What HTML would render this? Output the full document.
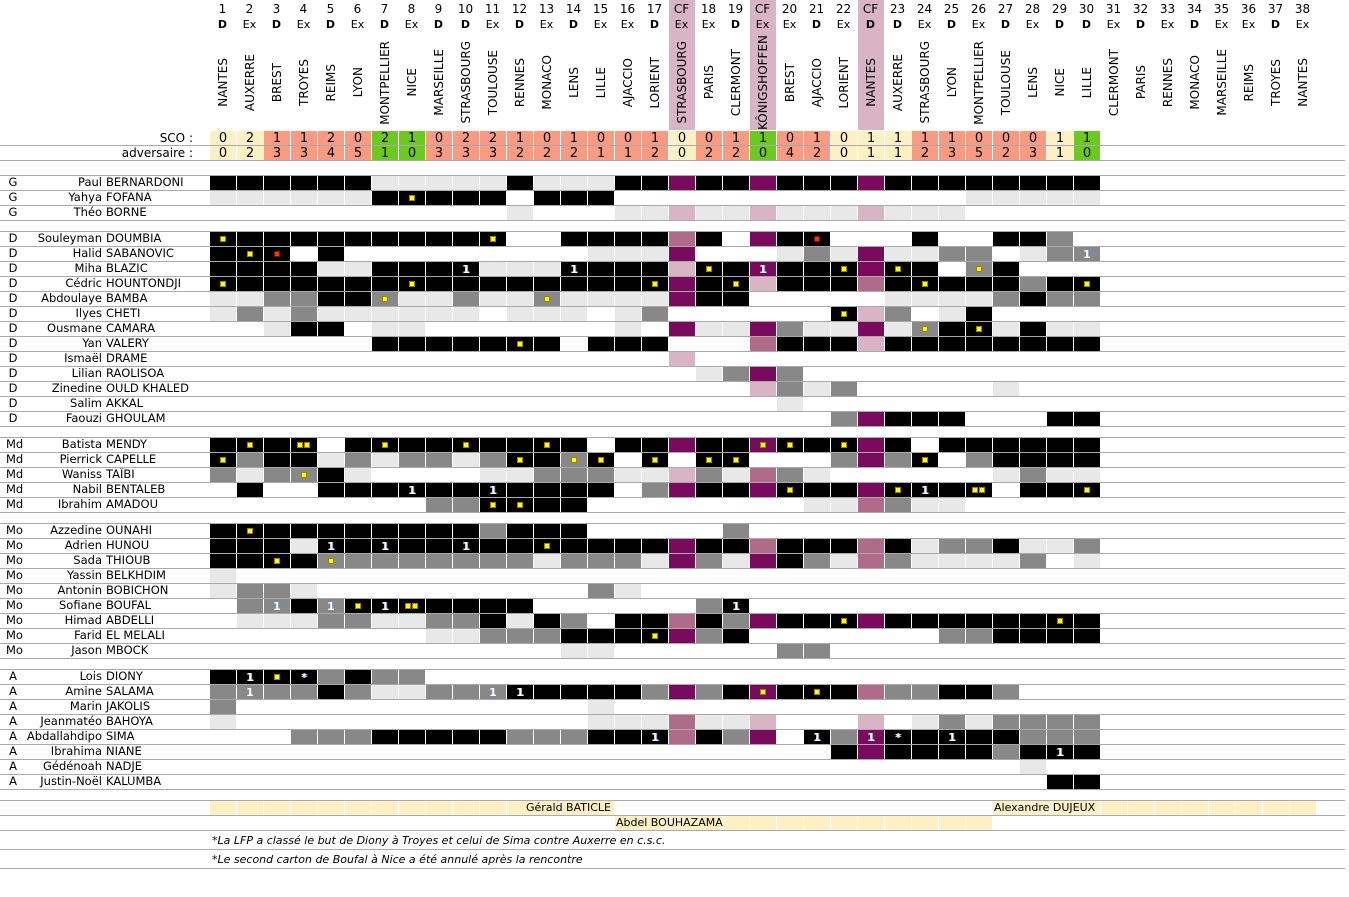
<!DOCTYPE html>
<html><head><meta charset="utf-8">
<style>
body{margin:0;width:1349px;height:897px;background:#fff;position:relative;overflow:hidden;font-family:"DejaVu Sans","Liberation Sans",sans-serif;color:#000}
.a{position:absolute}
.hr{position:absolute;left:0;width:1345px;height:1px;background:#aaa}
.hrow{position:absolute;left:209px;display:flex}
.hrow span{width:27px;text-align:center;display:block}
.vn span{height:95px;display:flex;align-items:center;justify-content:center}
.vn i{font-style:normal;writing-mode:vertical-rl;transform:rotate(180deg);font-size:12px;white-space:nowrap}
.cf{position:absolute;top:0;height:130px;width:26px;background:#d8b4c4}
.lab{position:absolute;left:0;height:15px;font-size:11.5px;line-height:15px;width:205px}
.lab b{font-weight:normal;position:absolute;left:6px;width:14px;text-align:center}
.lab em{font-style:normal;position:absolute;right:103px;white-space:nowrap}
.lab u{text-decoration:none;position:absolute;left:106px;white-space:nowrap}
.sc{position:absolute;width:26px;height:14px;font-size:13px;line-height:15px;text-align:center}
.c{position:absolute;width:26px;height:14px}
.dot{position:absolute;width:4px;height:4px;background:#ff0;border:1px solid #a08000;top:4px}
.g{position:absolute;left:0;width:26px;top:0;text-align:center;color:#fff;font-weight:bold;font-size:11px;line-height:15px;text-shadow:1px 0 0 #6a8ac0}
.cream{position:absolute;height:14px;width:26px;background:#fdf0c4}
</style></head><body>

<div class="cf" style="left:669px"></div>
<div class="cf" style="left:750px"></div>
<div class="cf" style="left:858px"></div>

<div class="hrow" style="top:2px;font-size:12px">
<span>1</span><span>2</span><span>3</span><span>4</span><span>5</span><span>6</span><span>7</span><span>8</span><span>9</span><span>10</span><span>11</span><span>12</span><span>13</span><span>14</span><span>15</span><span>16</span><span>17</span><span>CF</span><span>18</span><span>19</span><span>CF</span><span>20</span><span>21</span><span>22</span><span>CF</span><span>23</span><span>24</span><span>25</span><span>26</span><span>27</span><span>28</span><span>29</span><span>30</span><span>31</span><span>32</span><span>33</span><span>34</span><span>35</span><span>36</span><span>37</span><span>38</span>
</div>
<div class="hrow" style="top:18px;font-size:11px">
<span><b>D</b></span><span>Ex</span><span><b>D</b></span><span>Ex</span><span><b>D</b></span><span>Ex</span><span><b>D</b></span><span>Ex</span><span><b>D</b></span><span><b>D</b></span><span>Ex</span><span><b>D</b></span><span>Ex</span><span><b>D</b></span><span>Ex</span><span>Ex</span><span><b>D</b></span><span>Ex</span><span>Ex</span><span><b>D</b></span><span>Ex</span><span>Ex</span><span><b>D</b></span><span>Ex</span><span><b>D</b></span><span><b>D</b></span><span>Ex</span><span><b>D</b></span><span>Ex</span><span><b>D</b></span><span>Ex</span><span><b>D</b></span><span><b>D</b></span><span>Ex</span><span><b>D</b></span><span>Ex</span><span><b>D</b></span><span>Ex</span><span>Ex</span><span><b>D</b></span><span>Ex</span>
</div>
<div class="hrow vn" style="top:35px">
<span><i>NANTES</i></span><span><i>AUXERRE</i></span><span><i>BREST</i></span><span><i>TROYES</i></span><span><i>REIMS</i></span><span><i>LYON</i></span><span><i>MONTPELLIER</i></span><span><i>NICE</i></span><span><i>MARSEILLE</i></span><span><i>STRASBOURG</i></span><span><i>TOULOUSE</i></span><span><i>RENNES</i></span><span><i>MONACO</i></span><span><i>LENS</i></span><span><i>LILLE</i></span><span><i>AJACCIO</i></span><span><i>LORIENT</i></span><span><i>STRASBOURG</i></span><span><i>PARIS</i></span><span><i>CLERMONT</i></span><span><i>KÔNIGSHOFFEN</i></span><span><i>BREST</i></span><span><i>AJACCIO</i></span><span><i>LORIENT</i></span><span><i>NANTES</i></span><span><i>AUXERRE</i></span><span><i>STRASBOURG</i></span><span><i>LYON</i></span><span><i>MONTPELLIER</i></span><span><i>TOULOUSE</i></span><span><i>LENS</i></span><span><i>NICE</i></span><span><i>LILLE</i></span><span><i>CLERMONT</i></span><span><i>PARIS</i></span><span><i>RENNES</i></span><span><i>MONACO</i></span><span><i>MARSEILLE</i></span><span><i>REIMS</i></span><span><i>TROYES</i></span><span><i>NANTES</i></span>
</div>

<div class="a" style="left:0;width:193px;text-align:right;top:131px;font-size:12px;line-height:15px">SCO :</div>
<div class="a" style="left:0;width:193px;text-align:right;top:146px;font-size:12px;line-height:15px">adversaire :</div>
<div class="hr" style="top:145px"></div>
<div class="hr" style="top:160px"></div>

<div class="lab" style="top:175px"><b>G</b><em>Paul</em><u>BERNARDONI</u></div>
<div class="lab" style="top:190px"><b>G</b><em>Yahya</em><u>FOFANA</u></div>
<div class="lab" style="top:205px"><b>G</b><em>Théo</em><u>BORNE</u></div>
<div class="lab" style="top:231px"><b>D</b><em>Souleyman</em><u>DOUMBIA</u></div>
<div class="lab" style="top:246px"><b>D</b><em>Halid</em><u>SABANOVIC</u></div>
<div class="lab" style="top:261px"><b>D</b><em>Miha</em><u>BLAZIC</u></div>
<div class="lab" style="top:276px"><b>D</b><em>Cédric</em><u>HOUNTONDJI</u></div>
<div class="lab" style="top:291px"><b>D</b><em>Abdoulaye</em><u>BAMBA</u></div>
<div class="lab" style="top:306px"><b>D</b><em>Ilyes</em><u>CHETI</u></div>
<div class="lab" style="top:321px"><b>D</b><em>Ousmane</em><u>CAMARA</u></div>
<div class="lab" style="top:336px"><b>D</b><em>Yan</em><u>VALERY</u></div>
<div class="lab" style="top:351px"><b>D</b><em>Ismaël</em><u>DRAME</u></div>
<div class="lab" style="top:366px"><b>D</b><em>Lilian</em><u>RAOLISOA</u></div>
<div class="lab" style="top:381px"><b>D</b><em>Zinedine</em><u>OULD KHALED</u></div>
<div class="lab" style="top:396px"><b>D</b><em>Salim</em><u>AKKAL</u></div>
<div class="lab" style="top:411px"><b>D</b><em>Faouzi</em><u>GHOULAM</u></div>
<div class="lab" style="top:437px"><b>Md</b><em>Batista</em><u>MENDY</u></div>
<div class="lab" style="top:452px"><b>Md</b><em>Pierrick</em><u>CAPELLE</u></div>
<div class="lab" style="top:467px"><b>Md</b><em>Waniss</em><u>TAÏBI</u></div>
<div class="lab" style="top:482px"><b>Md</b><em>Nabil</em><u>BENTALEB</u></div>
<div class="lab" style="top:497px"><b>Md</b><em>Ibrahim</em><u>AMADOU</u></div>
<div class="lab" style="top:523px"><b>Mo</b><em>Azzedine</em><u>OUNAHI</u></div>
<div class="lab" style="top:538px"><b>Mo</b><em>Adrien</em><u>HUNOU</u></div>
<div class="lab" style="top:553px"><b>Mo</b><em>Sada</em><u>THIOUB</u></div>
<div class="lab" style="top:568px"><b>Mo</b><em>Yassin</em><u>BELKHDIM</u></div>
<div class="lab" style="top:583px"><b>Mo</b><em>Antonin</em><u>BOBICHON</u></div>
<div class="lab" style="top:598px"><b>Mo</b><em>Sofiane</em><u>BOUFAL</u></div>
<div class="lab" style="top:613px"><b>Mo</b><em>Himad</em><u>ABDELLI</u></div>
<div class="lab" style="top:628px"><b>Mo</b><em>Farid</em><u>EL MELALI</u></div>
<div class="lab" style="top:643px"><b>Mo</b><em>Jason</em><u>MBOCK</u></div>
<div class="lab" style="top:669px"><b>A</b><em>Lois</em><u>DIONY</u></div>
<div class="lab" style="top:684px"><b>A</b><em>Amine</em><u>SALAMA</u></div>
<div class="lab" style="top:699px"><b>A</b><em>Marin</em><u>JAKOLIS</u></div>
<div class="lab" style="top:714px"><b>A</b><em>Jeanmatéo</em><u>BAHOYA</u></div>
<div class="lab" style="top:729px"><b>A</b><em>Abdallahdipo</em><u>SIMA</u></div>
<div class="lab" style="top:744px"><b>A</b><em>Ibrahima</em><u>NIANE</u></div>
<div class="lab" style="top:759px"><b>A</b><em>Gédénoah</em><u>NADJE</u></div>
<div class="lab" style="top:774px"><b>A</b><em>Justin-Noël</em><u>KALUMBA</u></div>

<div id="grid"></div>

<div class="hr" style="top:800px"></div>
<div class="hr" style="top:815px"></div>
<div class="hr" style="top:830px"></div>
<div class="hr" style="top:849px"></div>
<div class="hr" style="top:868px"></div>
<div id="coach"></div>
<div class="a" style="left:400px;width:211px;text-align:right;top:800px;font-size:11px;line-height:16px">Gérald BATICLE</div>
<div class="a" style="left:616px;top:815px;font-size:11px;line-height:16px">Abdel BOUHAZAMA</div>
<div class="a" style="left:994px;top:800px;font-size:11px;line-height:16px">Alexandre DUJEUX</div>
<div class="a" style="left:212px;top:833px;font-size:11px;font-style:italic;line-height:16px">*La LFP a classé le but de Diony à Troyes et celui de Sima contre Auxerre en c.s.c.</div>
<div class="a" style="left:212px;top:852px;font-size:11px;font-style:italic;line-height:16px">*Le second carton de Boufal à Nice a été annulé après la rencontre</div>

<script>
var C={K:'#000',L:'#e8e8e8',G:'#888',W:null,P:'#7a0a5e',Q:'#d8b4c4',M:'#b06a8a'};
var h='';
function X(k){return 209+27*k+1;}
var s1=[0,2,1,1,2,0,2,1,0,2,2,1,0,1,0,0,1,0,0,1,1,0,1,0,1,1,1,1,0,0,0,1,1];
var s2=[0,2,3,3,4,5,1,0,3,3,3,2,2,2,1,1,2,0,2,2,0,4,2,0,1,1,2,3,5,2,3,1,0];
for(var k=0;k<33;k++){var a=s1[k],b=s2[k];var col=a>b?'#6cc922':(a<b?'#f99a82':'#fdf0c4');
h+='<div class="sc" style="left:'+X(k)+'px;top:131px;background:'+col+'">'+a+'</div>';
h+='<div class="sc" style="left:'+X(k)+'px;top:146px;background:'+col+'">'+b+'</div>';}
var groups=[[175,3],[231,13],[437,5],[523,9],[669,8]];
groups.forEach(function(g){h+='<div class="hr" style="top:'+g[0]+'px"></div>';for(var i=0;i<g[1];i++)h+='<div class="hr" style="top:'+(g[0]+15*(i+1))+'px"></div>';});
var R=[
[175,"0-5:K 6-10:L 11:K 12-14:L 15-16:K 17:P 18-19:K 20:P 21-23:K 24:P 25-32:K"],
[190,"0-5:L 6:K 7:Ky 8-10:K 12-14:K 28-32:L"],
[205,"11:L 15-16:L 17:Q 18-19:L 20:Q 21-23:L 24:Q 25-27:L"],
[231,"0:Ky 1-9:K 10:Ky 13-16:K 17:M 18:K 20:P 21:K 22:Kr 26:K 29-30:K 31:G"],
[246,"0:K 1:Ky 2:Kr 4:K 14-16:L 17:P 21:L 22:G 23:L 24:P 25-26:L 27-28:G 30:L 31:G 32:G1"],
[261,"0-3:K 4-5:L 6-8:K 9:K1 10-12:L 13:K1 14-16:K 17:Q 18:Ky 19:K 20:P1 21-22:K 23:Ky 24:P 25:Ky 26:K 28:Gy 29:K"],
[276,"0:Ky 1-6:K 7:Ky 8-15:K 16:Ky 17:P 18:K 19:Ky 20:Q 21-23:K 24:M 25:K 26:Ky 27-29:K 30:G 31:K 32:Ky"],
[291,"0-1:L 2-3:G 4-5:K 6:Gy 7-8:L 9:G 10-11:L 12:Gy 13-16:L 17:P 18-19:K 25-28:L 29:G 30:K 31-32:G"],
[306,"0:L 1:G 2:L 3:G 4-9:L 11-13:L 15:L 16:G 23:Ky 24:Q 25:G 27:L 28:K"],
[321,"2:L 3-4:K 6-7:L 15:L 17:P 18-19:L 20:P 21:G 22-23:L 24:P 25:L 26:Gy 27:K 28:Ky 29:L 30:K 31-32:L"],
[336,"6-10:K 11:Ky 12:K 14-16:K 20:M 21-23:K 24:Q 25-32:K"],
[351,"17:Q"],
[366,"18:L 19:G 20:P 21:G"],
[381,"20:Q 21:G 22:L 23:G 29:L"],
[396,"21:L"],
[411,"23:G 24:P 25-27:K 31-32:K"],
[437,"0:K 1:Ky 2:K 3:KY 5:K 6:Ky 7-8:K 9:Ky 10-11:K 12:Ky 13:K 15-16:K 17:P 18-19:K 20:Py 21:Ky 22:K 23:Ky 24:P 25:K 27-32:K"],
[452,"0:Ky 1:G 2-3:K 4:L 5:G 6:L 7-8:G 9:L 10:G 11:Ky 12:K 13:Gy 14:Ky 16:Ky 18:Ky 19:Ky 23:G 24:P 25:G 26:Ky 28:G 29-32:K"],
[467,"0:G 1:L 2:G 3:Gy 4:K 5:L 10-11:L 12-14:G 15-16:L 17:Q 18:G 19:L 20:M 21:G 22:L 29:L 30:G 31-32:L"],
[482,"1:K 4-6:K 7:K1 8-9:K 10:K1 11-14:K 16:G 17:P 18-19:K 20:P 21:Ky 22-23:K 24:P 25:Ky 26:K1 27:K 28:KY 30-31:K 32:Ky"],
[497,"8-9:G 10:Ky 11:Ky 12-13:K 22-23:L 24:M 25:G 26-27:L"],
[523,"0:K 1:Ky 2-9:K 10:G 11-13:K 19:G"],
[538,"0-2:K 3:L 4:K1 5:K 6:K1 7-8:K 9:K1 10-11:K 12:Ky 13-16:K 17:P 18-19:K 20:M 21-23:K 24:M 25:K 26:L 27-28:G 29:K 30-31:L 32:G"],
[553,"0-1:K 2:Ky 3:K 4:Gy 5-11:G 12:L 13-15:G 16:L 17:P 18:G 19:L 20:P 21:K 22:G 23:L 24:M 25:G 26-29:L 30:G 32:L"],
[568,"0:L"],
[583,"0:L 1-2:G 3:L 14:G 15:L"],
[598,"1:G 2:G1 3:K 4:G1 5:Ky 6:K1 7:KY 8-11:K 18:G 19:K1"],
[613,"1-3:L 4-5:G 6-7:L 8-9:G 10:K 11:L 12:K 13:G 15-16:K 17:M 18:K 19:G 20:P 21-22:K 23:Ky 24:P 25-30:K 31:Ky 32:K"],
[628,"8-9:L 10-12:G 13-15:K 16:Ky 17:P 18:G 19:K 27-28:G 29-32:K"],
[643,"13-14:L 21-22:G"],
[669,"0:K 1:K1 2:Ky 3:K* 4:G 5:K 6-7:G"],
[684,"0:G 1:G1 2-3:G 4:K 5:G 6-7:L 8-9:G 10:G1 11:K1 12-15:K 16:G 17:P 18:G 19:K 20:Py 21:K 22:Ky 23:K 24:M 25-26:G 27-28:K 29:G"],
[699,"0:G 14:L"],
[714,"0:L 14-16:L 17:M 18-19:L 20:Q 24:Q 26:L 27:G 28:L 29-32:G"],
[729,"3-5:G 6-10:K 11-13:G 14-15:K 16:K1 17:M 18:K 19:G 20:P 22:K1 23:G 24:P1 25:K* 26:K 27:K1 28-29:K 30-32:G"],
[744,"23:K 24:P 25-28:K 29:G 30:K 31:K1 32:K"],
[759,"30:L"],
[774,"31-32:K"]
];
R.forEach(function(r){var top=r[0]+1;r[1].split(' ').forEach(function(t){var p=t.split(':'),rg=p[0].split('-'),a=+rg[0],b=rg.length>1?+rg[1]:a,code=p[1],col=C[code[0]],m=code.slice(1);
for(var k=a;k<=b;k++){var inner='';
if(m=='y')inner='<div class="dot" style="left:10px"></div>';
else if(m=='Y')inner='<div class="dot" style="left:6px"></div><div class="dot" style="left:13px"></div>';
else if(m=='r')inner='<div class="dot" style="left:10px;background:#ff3300;border-color:#801000"></div>';
else if(m=='1'||m=='*')inner='<div class="g">'+m+'</div>';
h+='<div class="c" style="left:'+X(k)+'px;top:'+top+'px;'+(col?'background:'+col:'')+'">'+inner+'</div>';}});});
document.getElementById('grid').innerHTML=h;
var c='';
for(var k=0;k<41;k++){if(k<=14||k>=29)c+='<div class="cream" style="left:'+X(k)+'px;top:801px"></div>';
if(k>=15&&k<=28)c+='<div class="cream" style="left:'+X(k)+'px;top:816px"></div>';}
document.getElementById('coach').innerHTML=c;
</script>
</body></html>
